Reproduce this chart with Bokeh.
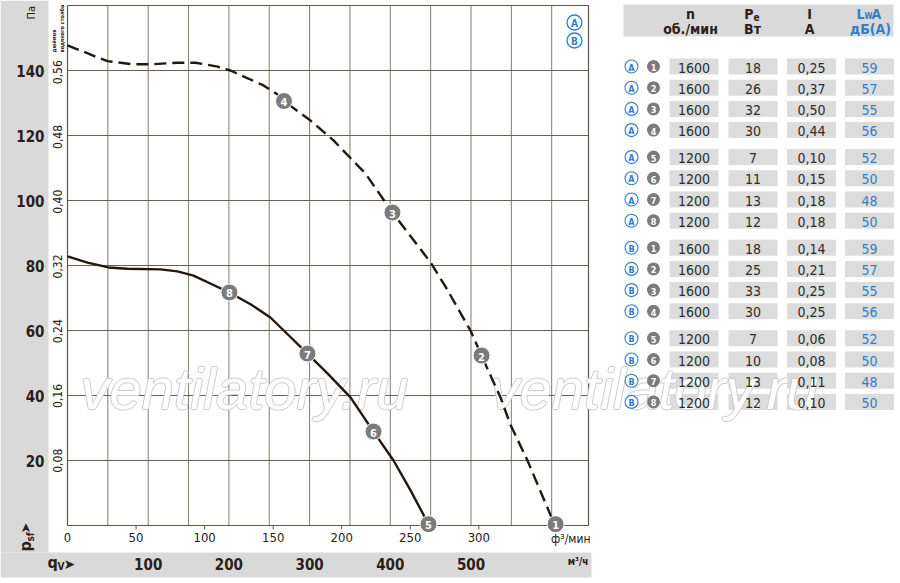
import math
from bokeh.plotting import figure
from bokeh.models import Range1d
from bokeh.core.properties import value
from bokeh.embed import file_html
from bokeh.resources import INLINE

# ------------------------------------------------------------------ data
# Curve A (dashed), flow in ft3/min, static pressure in Pa
curve_a_flow = [0, 15.3, 21.9, 29.2, 47.4, 60.5, 80.2, 93.4, 109.4, 118.9, 143.0, 153.2,
                157.9, 177.2, 194.0, 217.3, 237.0, 264.7, 275.7, 293.9, 302.0, 310.0,
                315.8, 323.1, 335.5, 353.0, 356.0]
curve_a_pres = [147.7, 145.2, 144.0, 142.9, 141.9, 141.9, 142.4, 142.4, 141.2, 140.0, 135.4, 132.6,
                130.6, 124.6, 118.5, 108.3, 96.3, 81.0, 73.5, 60.0, 52.3, 44.8,
                39.4, 31.0, 20.0, 2.5, 0.4]
# Curve B (solid)
curve_b_flow = [0, 14.6, 29.9, 43.8, 67.8, 80.2, 91.9, 118.1, 133.5, 148.0, 162.6, 175.0,
                189.6, 206.4, 223.2, 237.8, 250.2, 263.3]
curve_b_pres = [82.8, 80.9, 79.4, 79.0, 78.8, 78.2, 76.9, 71.7, 68.1, 64.0, 58.0, 52.9,
                46.8, 39.4, 28.9, 20.0, 10.8, 0.4]

op_a_labels = ["1", "2", "3", "4"]
op_a_flow = [356.0, 302.0, 237.0, 157.9]
op_a_pres = [0.4, 52.3, 96.3, 130.6]
op_b_labels = ["5", "6", "7", "8"]
op_b_flow = [263.3, 223.2, 175.0, 118.1]
op_b_pres = [0.4, 28.9, 52.9, 71.7]

pa_ticks = [20, 40, 60, 80, 100, 120, 140]
inwg_ticks = [0.08, 0.16, 0.24, 0.32, 0.40, 0.48, 0.56]
inwg_labels = ["0,08", "0,16", "0,24", "0,32", "0,40", "0,48", "0,56"]
cfm_ticks = [0, 50, 100, 150, 200, 250, 300]
m3h_ticks = [100, 200, 300, 400, 500]
m3h_grid = [50, 100, 150, 200, 250, 300, 350, 400, 450, 500, 550, 600]

table_curve = ["A"] * 8 + ["B"] * 8
table_point = ["1", "2", "3", "4", "5", "6", "7", "8"] * 2
table_n = ["1600"] * 4 + ["1200"] * 4 + ["1600"] * 4 + ["1200"] * 4
table_pe = ["18", "26", "32", "30", "7", "11", "13", "12",
            "18", "25", "33", "30", "7", "10", "13", "12"]
table_i = ["0,25", "0,37", "0,50", "0,44", "0,10", "0,15", "0,18", "0,18",
           "0,14", "0,21", "0,25", "0,25", "0,06", "0,08", "0,11", "0,10"]
table_lwa = ["59", "57", "55", "56", "52", "50", "48", "50"] * 2

CFM_PER_M3H = 1 / 1.699
PA_PER_INWG = 249.089
X_MAX_CFM = 380
Y_MAX_PA = 160

# ------------------------------------------------------------------ layout
FIG_W, FIG_H = 900, 583
PX0, PY0 = 0, 0
PX1, PY1 = PX0 + FIG_W, PY0 + FIG_H
PLOT_L, PLOT_R, PLOT_T, PLOT_B = 67, 588, 5, 525
kx = (PLOT_R - PLOT_L) / X_MAX_CFM
ky = (PLOT_B - PLOT_T) / Y_MAX_PA

FN = "'Liberation Sans Narrow', 'Arial Narrow', 'DejaVu Sans Condensed', sans-serif"
FW = "'Liberation Sans', Arial, sans-serif"
FS = "'DejaVu Sans', sans-serif"
DARK = "#2a2018"
BLUE = "#2f7fc8"
PANEL = "#d9d9d9"
CELL = "#dcdcdc"
BADGE = "#7b7b7b"

p = figure(width=FIG_W, height=FIG_H, x_range=Range1d(PX0, PX1), y_range=Range1d(PY1, PY0),
           output_backend="svg", toolbar_location=None, tools="",
           x_axis_location=None, y_axis_location=None, min_border=0,
           outline_line_color=None, background_fill_color="white", border_fill_color="white")
p.min_border_left = p.min_border_right = p.min_border_top = p.min_border_bottom = 0
for g in p.grid:
    g.visible = False

p.extra_x_ranges = {"cfm": Range1d((PX0 - PLOT_L) / kx, (PX1 - PLOT_L) / kx)}
pa_lo, pa_hi = (PLOT_B - PY1) / ky, (PLOT_B - PY0) / ky
p.extra_y_ranges = {"pa": Range1d(pa_lo, pa_hi),
                    "inwg": Range1d(pa_lo / PA_PER_INWG, pa_hi / PA_PER_INWG)}


def _lst(v, n):
    return list(v) if isinstance(v, (list, tuple)) else [v] * n


def T(x, y, s, size, color=DARK, style="normal", align="center", baseline="middle",
      angle=0.0, font=FN, xr="default", yr="default", xo=0, yo=0):
    s = _lst(s, 1)
    n = len(s)
    p.text(x=_lst(x, n), y=_lst(y, n), text=s, text_font=value(font),
           text_font_size=value(f"{size}px"), text_font_style=style, text_color=color,
           text_align=align, text_baseline=baseline, angle=angle,
           x_range_name=xr, y_range_name=yr, x_offset=xo, y_offset=yo)


# ------------------------------------------------------------------ panels
p.quad(left=[0, 0], right=[48, 591], top=[0, 552], bottom=[552, 577],
       fill_color=PANEL, line_color=None)

# table header + cells
p.quad(left=623, right=893, top=4, bottom=36, fill_color=PANEL, line_color=None)
row_y = [66 + i * 21.2 + (i // 4) * 5.8 for i in range(len(table_n))]
col_c = [693.5, 752.5, 811.0, 869.0]
col_hw = 24.5
cl, cr, ct, cb = [], [], [], []
for c in col_c:
    for y in row_y:
        cl.append(c - col_hw); cr.append(c + col_hw); ct.append(y - 8); cb.append(y + 8)
p.quad(left=cl, right=cr, top=ct, bottom=cb, fill_color=CELL, line_color=None)

# ------------------------------------------------------------------ grid
vx = [m * CFM_PER_M3H for m in m3h_grid]
p.segment(x0=vx, y0=0, x1=vx, y1=Y_MAX_PA, x_range_name="cfm", y_range_name="pa",
          line_color="#857a6e", line_width=1)
p.segment(x0=0, y0=pa_ticks, x1=X_MAX_CFM, y1=pa_ticks, x_range_name="cfm",
          y_range_name="pa", line_color="#6a5f53", line_width=1)
# frame
p.segment(x0=[0, 0, X_MAX_CFM, 0], y0=[0, 0, 0, Y_MAX_PA],
          x1=[0, X_MAX_CFM, X_MAX_CFM, X_MAX_CFM], y1=[Y_MAX_PA, 0, Y_MAX_PA, Y_MAX_PA],
          x_range_name="cfm", y_range_name="pa", line_color="#5e5449", line_width=1.2)
# cfm ticks below frame
tk = [t for t in cfm_ticks if t > 0]
p.segment(x0=tk, y0=0, x1=tk, y1=-4 / ky, x_range_name="cfm", y_range_name="pa",
          line_color="#5e5449", line_width=1)

# ------------------------------------------------------------------ watermark
wm_x = [(80 - PLOT_L) / kx, (490 - PLOT_L) / kx]
wm_y = [(PLOT_B - 388) / ky] * 2
wm_t = ["ventilatory.ru"] * 2
for dx, dy in [(-1, 0), (1, 0), (0, -1), (0, 1)]:
    T(wm_x, wm_y, wm_t, 58, color="#cccccc", style="italic", align="left",
      baseline="alphabetic", font=FW, xr="cfm", yr="pa", xo=dx, yo=dy)
T(wm_x, wm_y, wm_t, 58, color="#ffffff", style="italic", align="left",
  baseline="alphabetic", font=FW, xr="cfm", yr="pa")

# ------------------------------------------------------------------ curves
p.line(curve_a_flow, curve_a_pres, x_range_name="cfm", y_range_name="pa",
       line_color="#23180e", line_width=2.4, line_dash="12 6", line_join="round")
p.line(curve_b_flow, curve_b_pres, x_range_name="cfm", y_range_name="pa",
       line_color="#23180e", line_width=2.4, line_join="round")
op_flow = op_a_flow + op_b_flow
op_pres = op_a_pres + op_b_pres
op_lab = op_a_labels + op_b_labels
p.scatter(op_flow, op_pres, size=17, marker="circle", fill_color=BADGE,
          line_color="white", line_width=1, x_range_name="cfm", y_range_name="pa")
T(op_flow, op_pres, op_lab, 11, color="white", style="bold", xr="cfm", yr="pa", yo=1)

# curve badges A / B in plot
p.scatter([574, 574], [22, 40], size=15, marker="circle", fill_color="white",
          line_color=BLUE, line_width=1.3)
T([574, 574], [22, 40], ["A", "B"], 10, color=BLUE, style="bold", yo=1)

# ------------------------------------------------------------------ axis texts
T(44, pa_ticks, [str(v) for v in pa_ticks], 15, style="bold", align="right", yr="pa")
T(57, inwg_ticks, inwg_labels, 12, align="center", angle=math.pi / 2, yr="inwg")
T([53, 61], [52, 52], ["дюймов", "водяного столба"], 5.5, style="bold", align="left",
  angle=math.pi / 2)
T(31, 19, "Па", 11, align="left", angle=math.pi / 2)

T(cfm_ticks, 537, [str(v) for v in cfm_ticks], 13, xr="cfm")
T(590, 538, "ф³/мин", 12, align="right")
T([m * CFM_PER_M3H for m in m3h_ticks], 563, [str(v) for v in m3h_ticks], 15,
  style="bold", xr="cfm")
T(588, 561, "м³/ч", 10, style="bold", align="right")

# p_sf arrow (rotated) and q_V arrow
T(25, 551, "p", 16, style="bold", align="left", angle=math.pi / 2)
T(30, 541, "sf", 10, style="bold", align="left", angle=math.pi / 2)
T(25, 533, "➤", 13, align="left", angle=math.pi / 2, font=FS)
T(47, 562, "q", 16, style="bold", align="left")
T(57, 566, "V", 10, style="bold", align="left")
T(63, 563, "➤", 14, align="left", font=FS)

# ------------------------------------------------------------------ table texts
T([690, 809], [13, 13], ["n", "I"], 14, style="bold")
T(753, 13, "P", 14, style="bold", align="right")
T(753, 16, "e", 10, style="bold", align="left")
T(864, 13, "L", 14, style="bold", align="right", color=BLUE)
T(864, 16, "W", 8, style="bold", align="left", color=BLUE)
T(871, 13, "A", 14, style="bold", align="left", color=BLUE)
T([690, 752, 809], [28, 28, 28], ["об./мин", "Вт", "A"], 14, style="bold")
T(870, 28, "дБ(A)", 14, style="bold", color=BLUE)

p.scatter([631] * len(row_y), row_y, size=13, marker="circle", fill_color="white",
          line_color=BLUE, line_width=1.1)
T(631, row_y, table_curve, 9, color=BLUE, style="bold", yo=1)
p.scatter([653] * len(row_y), row_y, size=13, marker="circle", fill_color=BADGE,
          line_color=None)
T(653, row_y, table_point, 9, color="white", style="bold", yo=1)

T(col_c[0], row_y, table_n, 14, color="#2d2d2d", yo=1)
T(col_c[1], row_y, table_pe, 14, color="#2d2d2d", yo=1)
T(col_c[2], row_y, table_i, 14, color="#2d2d2d", yo=1)
T(col_c[3], row_y, table_lwa, 14, color=BLUE, yo=1)

open("out.html", "w").write(file_html(p, INLINE))
